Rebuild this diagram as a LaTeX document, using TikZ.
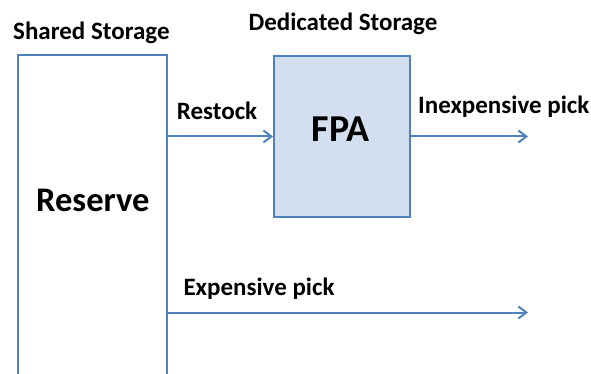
\documentclass[tikz,border=0pt]{standalone}
\usepackage{fontspec}
\setmainfont{Carlito}
\usetikzlibrary{arrows.meta}
\definecolor{lineblue}{HTML}{4F81BD}
\definecolor{fillblue}{HTML}{D3DFEE}
\tikzset{
  px/.style={x=1pt,y=-1pt},
  link/.style={draw=lineblue,line width=2pt,-{Straight Barb[length=8pt,width=12pt,line width=2pt]}},
  lbl/.style={font=\bfseries\fontsize{25}{27}\selectfont,inner sep=0pt,anchor=base west},
  bigbox/.style={draw=lineblue,line width=2pt},
}
\begin{document}
\begin{tikzpicture}[px]
\useasboundingbox (0,0) rectangle (591,374);
\begin{scope}
\clip (0,0) rectangle (591,374);
% shared reserve storage, open at the bottom
\node[bigbox,minimum width=149pt,minimum height=340pt,anchor=north west] (reserve) at (17,54) {};
\end{scope}
\node[font=\bfseries\fontsize{34.5}{36}\selectfont,inner sep=0pt,anchor=base west] (rlabel) at (36,211.5) {Reserve};
% dedicated forward pick area
\node[bigbox,fill=fillblue,minimum width=136pt,minimum height=161pt,anchor=north west] (fpa) at (273,55) {};
\node[font=\bfseries\fontsize{38}{40}\selectfont,inner sep=0pt,anchor=base west] (fpalabel) at (311.5,142) {FPA};
% headings
\node[lbl] (shared) at (13,39.3) {Shared Storage};
\node[lbl] (dedicated) at (248.3,31) {Dedicated Storage};
% flows
\coordinate (rs) at (166,136.5);
\coordinate (ex) at (166,312.5);
\coordinate (inend) at (528,136.5);
\coordinate (exend) at (528,312.5);
\draw[link] (rs) -- (fpa.west |- rs);
\draw[link] (fpa.east |- rs) -- (inend);
\draw[link] (ex) -- (exend);
\node[lbl] (restock) at (176.7,120) {Restock};
\node[lbl] (inexp) at (418,113.3) {Inexpensive pick};
\node[lbl] (exp) at (183.3,295) {Expensive pick};
\end{tikzpicture}
\end{document}
